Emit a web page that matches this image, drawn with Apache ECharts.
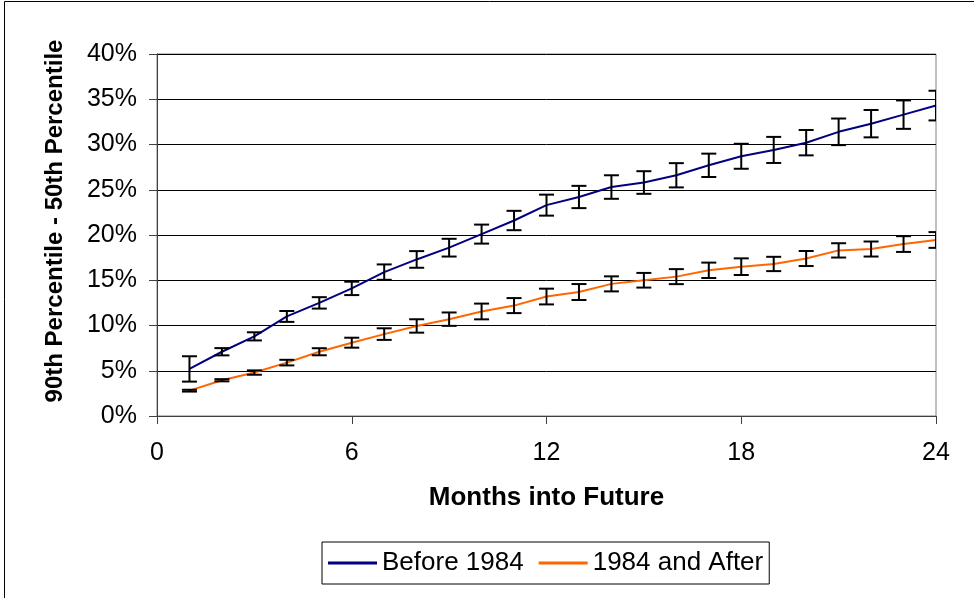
<!DOCTYPE html>
<html>
<head>
<meta charset="utf-8">
<script src="https://cdn.jsdelivr.net/npm/echarts@6/dist/echarts.min.js"></script>
<style>
html,body{margin:0;padding:0;background:#fff;}
#chart{width:974px;height:598px;}
</style>
</head>
<body>
<div id="chart"></div>
<script>
const months = [1,2,3,4,5,6,7,8,9,10,11,12,13,14,15,16,17,18,19,20,21,22,23,24];
const before = [5.2,7.1,8.8,11.0,12.5,14.1,15.9,17.3,18.6,20.1,21.6,23.3,24.2,25.3,25.8,26.6,27.7,28.7,29.4,30.2,31.4,32.3,33.3,34.3];
const beforeErr = [1.4,0.4,0.45,0.6,0.63,0.74,0.85,0.92,0.98,1.05,1.07,1.16,1.23,1.3,1.25,1.34,1.29,1.38,1.44,1.4,1.47,1.51,1.57,1.64];
const after = [2.8,3.95,4.8,5.9,7.1,8.1,9.05,9.95,10.7,11.55,12.2,13.2,13.7,14.6,15.0,15.4,16.1,16.5,16.8,17.4,18.3,18.45,19.0,19.45];
const afterErr = [0.1,0.12,0.24,0.31,0.39,0.55,0.64,0.74,0.74,0.87,0.83,0.87,0.88,0.83,0.81,0.83,0.85,0.92,0.79,0.83,0.79,0.83,0.87,0.87];
const seriesNames = ['Before 1984','1984 and After'];
const xTicks = [0,6,12,18,24];

const FONT = 'Liberation Sans, Arial, sans-serif';
const chart = echarts.init(document.getElementById('chart'));

function errData(vals, errs){
  return months.map((m,i)=>[m, vals[i]-errs[i], vals[i]+errs[i]]);
}
function renderErr(params, api){
  const x = api.value(0);
  const lo = api.coord([x, api.value(1)]);
  const hi = api.coord([x, api.value(2)]);
  const hw = 7.5;
  const st = {stroke:'#000', lineWidth:2};
  return {type:'group', children:[
    {type:'line', shape:{x1:lo[0],y1:lo[1],x2:hi[0],y2:hi[1]}, style:st},
    {type:'line', shape:{x1:lo[0]-hw,y1:lo[1],x2:lo[0]+hw,y2:lo[1]}, style:st},
    {type:'line', shape:{x1:hi[0]-hw,y1:hi[1],x2:hi[0]+hw,y2:hi[1]}, style:st}
  ]};
}

chart.setOption({
  animation:false,
  backgroundColor:'#fff',
  textStyle:{fontFamily:FONT},
  grid:{left:157, top:54, right:38, bottom:182, show:true, borderColor:'#808080', borderWidth:1, backgroundColor:'#fff'},
  legend:{
    data:seriesNames.map(n=>({name:n, icon:'rect'})),
    left:322, top:542, orient:'horizontal',
    itemWidth:49, itemHeight:3, itemGap:15,
    padding:[8,6,8,6],
    borderColor:'#000', borderWidth:1,
    textStyle:{fontFamily:FONT, fontSize:26, color:'#000'}
  },
  xAxis:{
    type:'value', min:0, max:24, interval:6,
    name:'Months into Future', nameLocation:'middle', nameGap:69,
    nameTextStyle:{fontFamily:FONT, fontSize:26, fontWeight:'bold', color:'#000'},
    axisLine:{show:true, onZero:false, lineStyle:{color:'#404040', width:1}},
    axisTick:{show:true, inside:false, length:8, lineStyle:{color:'#404040'}},
    axisLabel:{fontFamily:FONT, fontSize:25, color:'#000', margin:25,
      formatter:v=> xTicks.indexOf(v)>=0 ? String(v) : ''},
    splitLine:{show:false}
  },
  yAxis:{
    type:'value', min:0, max:40, interval:5,
    name:'90th Percentile - 50th Percentile', nameLocation:'middle', nameGap:90, nameRotate:90,
    nameTextStyle:{fontFamily:FONT, fontSize:24, fontWeight:'bold', color:'#000', padding:[0,0,0,28]},
    axisLine:{show:true, lineStyle:{color:'#404040', width:1}},
    axisTick:{show:true, inside:false, length:8, lineStyle:{color:'#404040'}},
    axisLabel:{fontFamily:FONT, fontSize:25, color:'#000', margin:20, formatter:'{value}%'},
    splitLine:{show:true, lineStyle:{color:'#000', width:1}}
  },
  graphic:[
    {type:'line', shape:{x1:4.5,y1:1.5,x2:4.5,y2:598}, style:{stroke:'#000', lineWidth:1}, silent:true},
    {type:'line', shape:{x1:4.5,y1:1.5,x2:974,y2:1.5}, style:{stroke:'#000', lineWidth:1}, silent:true}
  ],
  series:[
    {name:seriesNames[0], type:'line', data:months.map((m,i)=>[m,before[i]]), showSymbol:false, symbol:'none',
      lineStyle:{color:'#000080', width:2}, itemStyle:{color:'#000080'}, z:2},
    {name:seriesNames[1], type:'line', data:months.map((m,i)=>[m,after[i]]), showSymbol:false, symbol:'none',
      lineStyle:{color:'#FF6600', width:2}, itemStyle:{color:'#FF6600'}, z:2},
    {type:'custom', data:errData(before,beforeErr), renderItem:renderErr, clip:true, z:3, silent:true},
    {type:'custom', data:errData(after,afterErr), renderItem:renderErr, clip:true, z:3, silent:true}
  ]
});
</script>
</body>
</html>
